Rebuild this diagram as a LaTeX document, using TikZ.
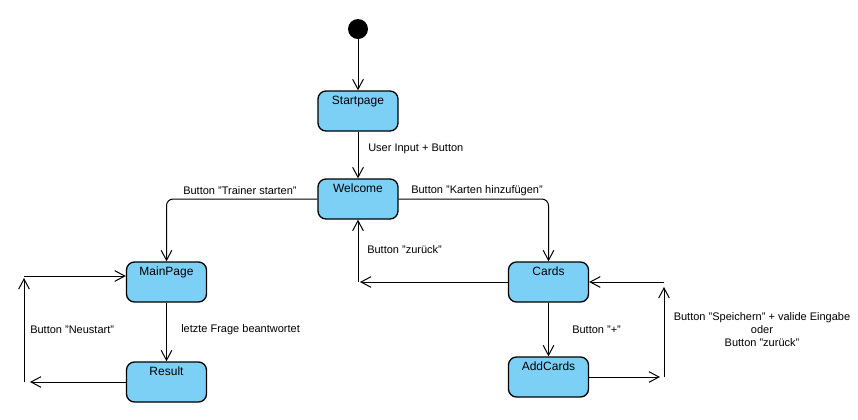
\documentclass[tikz,border=0pt]{standalone}
\usepackage{fontspec}
\setmainfont{Liberation Sans}
\usetikzlibrary{arrows.meta}
\definecolor{StateFill}{HTML}{7DD0F5}
\definecolor{Ink}{HTML}{000000}
\tikzset{
  trans/.style={-{Straight Barb[length=7.5pt,width=8pt,line width=0.75pt]},line width=0.75pt,draw=Ink},
  statebox/.style={rectangle,rounded corners=6pt,draw=Ink,line width=1pt,fill=StateFill,
    minimum width=60pt,minimum height=30pt,inner xsep=2pt,inner ysep=0pt,
    text height=9.75pt,text depth=20.25pt,font=\fontsize{9}{11}\selectfont},
  initdot/.style={circle,fill=Ink,minimum size=15pt,inner sep=0pt},
  translabel/.style={inner sep=0pt,font=\fontsize{8.25}{9.75}\selectfont},
}

\begin{document}
\begin{tikzpicture}[x=0.75pt,y=-0.75pt]
    \path[use as bounding box,fill=white] (0,0) rectangle (858,419);

    \node[initdot] (init) at (358,29) {};
    \node[statebox] (startpage) at (358,111) {Startpage};
    \node[statebox] (welcome) at (358,199) {Welcome};
    \node[statebox] (mainpage) at (166.5,282) {MainPage};
    \node[statebox] (result) at (166.5,382) {Result};
    \node[statebox] (cards) at (548.5,282) {Cards};
    \node[statebox] (addcards) at (548.5,377) {AddCards};

    % free ends of the split connectors
    \coordinate (backend) at (360,282);
    \coordinate (backstart) at (358,282);
    \coordinate (restartend) at (30,382);
    \coordinate (restartlow) at (24,382);
    \coordinate (restarttop) at (24,278);
    \coordinate (restartstart) at (24,276);
    \coordinate (saveend) at (660,377);
    \coordinate (savelow) at (664,377);
    \coordinate (savetop) at (664,287);
    \coordinate (savestart) at (664,282);

    \draw[trans] (init) -- (startpage);
    \draw[trans] (startpage) -- (welcome);
    \draw[trans,rounded corners=5pt] (welcome.west) -| (mainpage.north);
    \draw[trans,rounded corners=5pt] (welcome.east) -| (cards.north);
    \draw[trans] (cards.west) -- (backend);
    \draw[trans] (backstart) -- (welcome.south);
    \draw[trans] (mainpage) -- (result);
    \draw[trans] (result.west) -- (restartend);
    \draw[trans] (restartlow) -- (restarttop);
    \draw[trans] (restartstart) -- (restartstart -| mainpage.west);
    \draw[trans] (cards) -- (addcards);
    \draw[trans] (addcards.east) -- (saveend);
    \draw[trans] (savelow) -- (savetop);
    \draw[trans] (savestart) -- (cards.east);

    \node[translabel,anchor=west] (lblinput) at (368,149) {User Input + Button};
    \node[translabel,anchor=west] (lbltrainer) at (183,191) {Button "Trainer starten"};
    \node[translabel,anchor=west] (lblkarten) at (411,191) {Button "Karten hinzufügen"};
    \node[translabel,anchor=west] (lblback) at (367,250) {Button "zurück"};
    \node[translabel,anchor=west] (lblrestart) at (30,330) {Button "Neustart"};
    \node[translabel,anchor=west] (lbllast) at (181,330) {letzte Frage beantwortet};
    \node[translabel,anchor=west] (lblplus) at (572,330) {Button "+"};
    \node[translabel,align=center] (lblsave) at (762,330)
      {Button "Speichern" + valide Eingabe\\oder\\Button "zurück"};
  \end{tikzpicture}
\end{document}
